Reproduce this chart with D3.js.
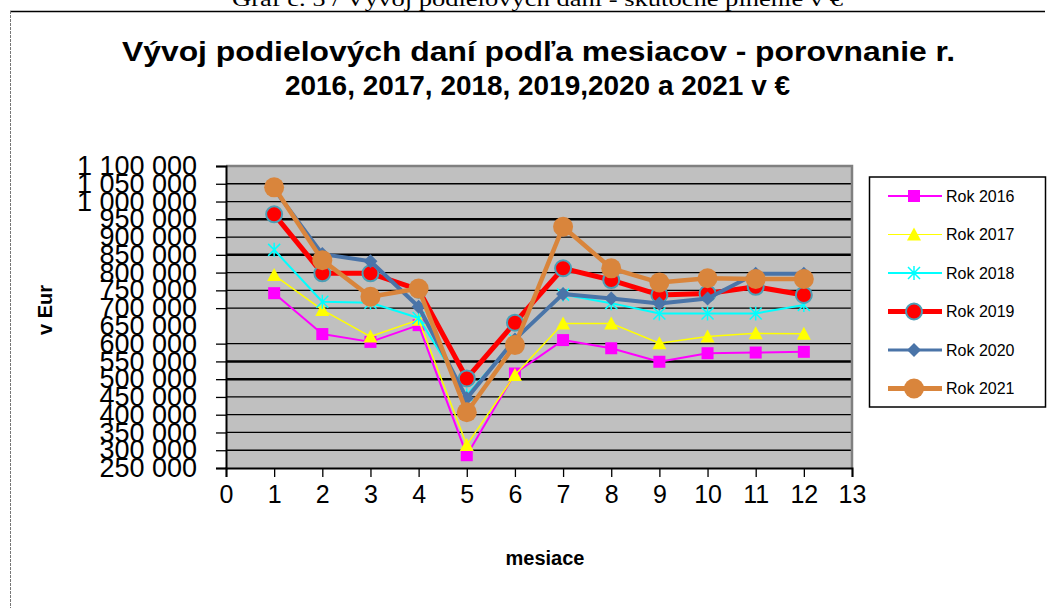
<!DOCTYPE html>
<html>
<head>
<meta charset="utf-8">
<script src="https://cdn.jsdelivr.net/npm/d3@7"></script>
<style>
  html, body { margin: 0; padding: 0; background: #fff; }
  svg { display: block; font-family: "Liberation Sans", Arial, sans-serif; }
</style>
</head>
<body>
<div id="chart"></div>
<script>
// months 1..12
const months = [1, 2, 3, 4, 5, 6, 7, 8, 9, 10, 11, 12];

// values (EUR)
const rok2016 = [742000, 627000, 605000, 652000, 286000, 516000, 610000, 587000, 549000, 573000, 575000, 577000];
const rok2017 = [793000, 695000, 620000, 667000, 315000, 512000, 657000, 657000, 601000, 620000, 629000, 628000];
const rok2018 = [864000, 718000, 715000, 672000, 455000, 610000, 738000, 714000, 685000, 685000, 685000, 709000];
const rok2019 = [964000, 798000, 798000, 752000, 502000, 659000, 812000, 779000, 737000, 741000, 760000, 737000];
const rok2020 = [1035000, 852000, 832000, 704000, 446000, 612000, 740000, 727000, 713000, 727000, 797000, 797000];
const rok2021 = [1040000, 835000, 732000, 755000, 407000, 596000, 929000, 812000, 772000, 784000, 782000, 782000];

const seriesNames = ["Rok 2016", "Rok 2017", "Rok 2018", "Rok 2019", "Rok 2020", "Rok 2021"];
const seriesValues = [rok2016, rok2017, rok2018, rok2019, rok2020, rok2021];

const yTicks = d3.range(250000, 1100001, 50000);
const xTicks = d3.range(0, 14);

const W = 1049, H = 608;

// look of each series
const styles = [
  { color: "#ff00ff", width: 2,   marker: "square" },
  { color: "#ffff00", width: 1.5, marker: "triangle" },
  { color: "#00ffff", width: 2,   marker: "x" },
  { color: "#ff0000", width: 5,   marker: "circleRed" },
  { color: "#4a74a8", width: 4,   marker: "diamond" },
  { color: "#d9853c", width: 4.5, marker: "circle" }
];

const svg = d3.select("#chart").append("svg")
  .attr("width", W)
  .attr("height", H);

svg.append("rect").attr("width", W).attr("height", H).attr("fill", "#fff");

// frame of the chart object
svg.append("line")
  .attr("x1", 10).attr("x2", 1045).attr("y1", 11.5).attr("y2", 11.5)
  .attr("stroke", "#000").attr("stroke-width", 1.5);
svg.append("line")
  .attr("x1", 10.5).attr("x2", 10.5).attr("y1", 11).attr("y2", H)
  .attr("stroke", "#777").attr("stroke-width", 1).attr("stroke-dasharray", "3,1");

// caption cut at the top
svg.append("text")
  .attr("x", 232).attr("y", 6)
  .attr("textLength", 611).attr("lengthAdjust", "spacingAndGlyphs")
  .style("font-family", "'Liberation Serif', 'Times New Roman', serif")
  .style("font-size", "22px")
  .text("Graf č. 5 / Vývoj podielových daní - skutočné plnenie v €");

// title
svg.append("text")
  .attr("x", 122).attr("y", 61)
  .attr("textLength", 833).attr("lengthAdjust", "spacingAndGlyphs")
  .style("font-size", "27px").style("font-weight", "bold")
  .text("Vývoj podielových daní podľa mesiacov  - porovnanie r.");
svg.append("text")
  .attr("x", 285).attr("y", 95)
  .attr("textLength", 505).attr("lengthAdjust", "spacingAndGlyphs")
  .style("font-size", "27px").style("font-weight", "bold")
  .text("2016, 2017, 2018, 2019,2020  a 2021 v €");

const x = d3.scaleLinear().domain([0, 13]).range([226, 852]);
const y = d3.scaleLinear().domain([250000, 1100000]).range([468, 166]);

// plot area
svg.append("rect")
  .attr("x", x(0)).attr("y", y(1100000))
  .attr("width", x(13) - x(0)).attr("height", y(250000) - y(1100000))
  .attr("fill", "#c0c0c0");

// gridlines (one is missing in the original, some render heavier)
const thick = [950000, 850000, 550000, 500000];
svg.append("g")
  .selectAll("line")
  .data(yTicks.filter(v => v > 250000 && v < 1100000 && v !== 650000))
  .join("line")
  .attr("x1", x(0)).attr("x2", x(13))
  .attr("y1", d => y(d)).attr("y2", d => y(d))
  .attr("stroke", "#000")
  .attr("stroke-width", d => thick.includes(d) ? 2.5 : 1.3);

// gray top / right border of plot
svg.append("path")
  .attr("d", `M${x(0)},${y(1100000)}H${x(13)}V${y(250000)}`)
  .attr("fill", "none").attr("stroke", "#808080").attr("stroke-width", 2.5);

const fmt = v => d3.format(",")(v).replace(/,/g, " ");

// y axis
const yAxis = svg.append("g")
  .attr("transform", `translate(${x(0)},0)`)
  .call(d3.axisLeft(y).tickValues(yTicks).tickSize(10).tickPadding(19).tickFormat(fmt));
yAxis.select(".domain").attr("stroke", "#000").attr("stroke-width", 2);
yAxis.selectAll(".tick line").attr("stroke", "#000").attr("stroke-width", 1.3)
  .attr("display", d => d === 650000 ? "none" : null);
yAxis.selectAll(".tick text")
  .attr("fill", "#000")
  .style("font-size", "27px")
  .style("font-family", "'Liberation Sans', Arial, sans-serif");

// x axis
const xAxis = svg.append("g")
  .attr("transform", `translate(0,${y(250000)})`)
  .call(d3.axisBottom(x).tickValues(xTicks).tickSize(9).tickPadding(8).tickFormat(d3.format("d")));
xAxis.select(".domain").attr("stroke", "#000").attr("stroke-width", 2);
xAxis.selectAll(".tick line").attr("stroke", "#000").attr("stroke-width", 1.3);
xAxis.selectAll(".tick text")
  .attr("fill", "#000")
  .style("font-size", "25px")
  .style("font-family", "'Liberation Sans', Arial, sans-serif");

// axis titles
svg.append("text")
  .attr("x", 545).attr("y", 565)
  .attr("text-anchor", "middle")
  .style("font-size", "20px").style("font-weight", "bold")
  .text("mesiace");
svg.append("text")
  .attr("transform", "translate(52,310) rotate(-90)")
  .attr("text-anchor", "middle")
  .style("font-size", "20px").style("font-weight", "bold")
  .text("v Eur");

// marker drawing
function drawMarker(g, type, color) {
  if (type === "square") {
    g.append("rect").attr("x", -6).attr("y", -6).attr("width", 12).attr("height", 12).attr("fill", color);
  } else if (type === "triangle") {
    g.append("path").attr("d", "M0,-7L7,6H-7Z").attr("fill", color);
  } else if (type === "x") {
    g.append("path").attr("d", "M-6,-6L6,6M-6,6L6,-6M0,-7V7")
      .attr("stroke", color).attr("stroke-width", 1.5).attr("fill", "none");
  } else if (type === "circleRed") {
    g.append("circle").attr("r", 8).attr("fill", color)
      .attr("stroke", "#4b9fb6").attr("stroke-width", 2);
  } else if (type === "diamond") {
    g.append("path").attr("d", "M0,-7L7,0L0,7L-7,0Z").attr("fill", color);
  } else if (type === "circle") {
    g.append("circle").attr("r", 10).attr("fill", color);
  }
}

const line = d3.line().x((d, i) => x(months[i])).y(d => y(d));

seriesValues.forEach((vals, si) => {
  const st = styles[si];
  const g = svg.append("g");
  g.append("path")
    .datum(vals)
    .attr("d", line)
    .attr("fill", "none")
    .attr("stroke", st.color)
    .attr("stroke-width", st.width)
    .attr("stroke-linejoin", "round");
  vals.forEach((v, i) => {
    const m = g.append("g").attr("transform", `translate(${x(months[i])},${y(v)})`);
    drawMarker(m, st.marker, st.color);
  });
});

// legend
const legend = svg.append("g");
legend.append("rect")
  .attr("x", 869.5).attr("y", 177).attr("width", 176).attr("height", 230)
  .attr("fill", "#fff").attr("stroke", "#000").attr("stroke-width", 1.5);

const legendWidths = [2, 1, 2, 5, 3, 5];
seriesNames.forEach((name, i) => {
  const ly = 196 + i * 38.5;
  const st = styles[i];
  legend.append("line")
    .attr("x1", 888).attr("x2", 942).attr("y1", ly).attr("y2", ly)
    .attr("stroke", st.color).attr("stroke-width", legendWidths[i]);
  const m = legend.append("g").attr("transform", `translate(914,${ly})`);
  drawMarker(m, st.marker, st.color);
  legend.append("text")
    .attr("x", 946).attr("y", ly)
    .attr("dy", "0.35em")
    .style("font-size", "16px")
    .text(name);
});
</script>
</body>
</html>
